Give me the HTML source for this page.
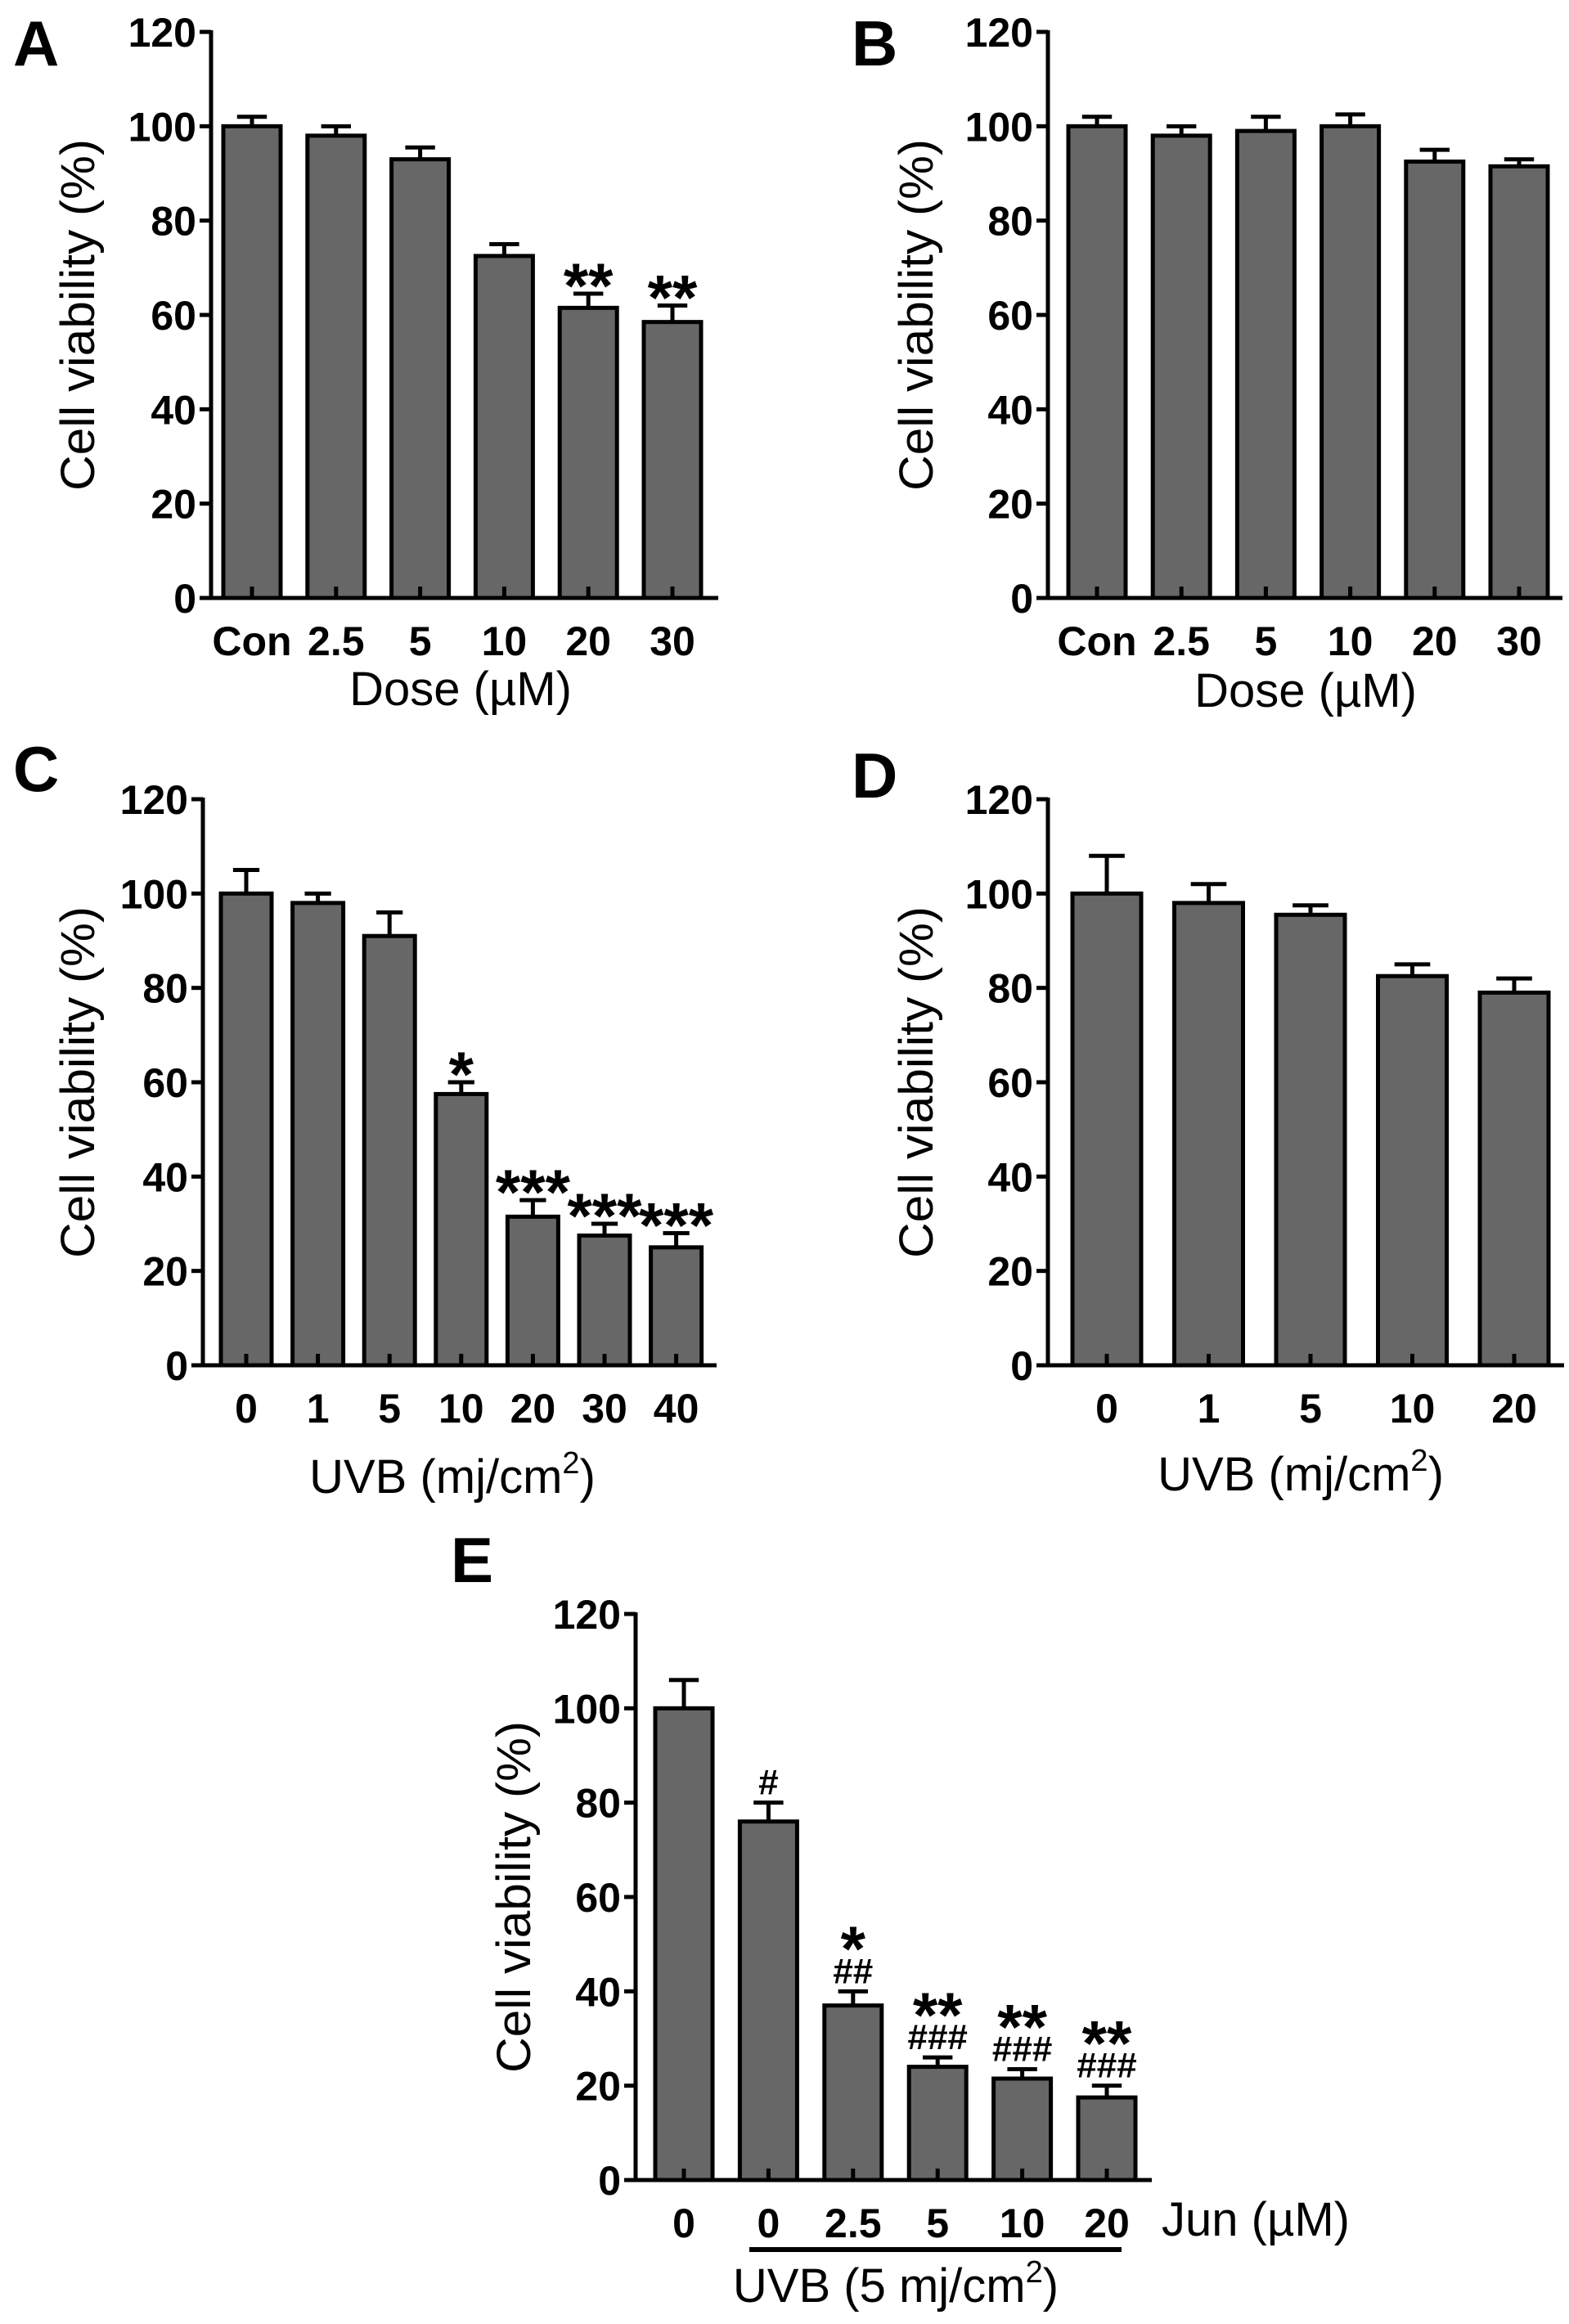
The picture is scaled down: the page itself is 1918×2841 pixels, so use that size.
<!DOCTYPE html>
<html><head><meta charset="utf-8">
<style>
html,body{margin:0;padding:0;background:#fff;}
svg{display:block;}
text{font-family:"Liberation Sans",Arial,sans-serif;fill:#000;}
</style></head>
<body>
<svg id="fig" width="1918" height="2841" viewBox="0 0 1918 2841" xmlns="http://www.w3.org/2000/svg"></svg>
<script>
// ---- Data ----
const aCats = ["Con","2.5","5","10","20","30"];
const aVals = [100, 98, 93, 72.5, 61.5, 58.5];
const aErrs = [2, 2, 2.5, 2.5, 3, 3.5];
const aMarks = ["", "", "", "", "**", "**"];

const bCats = ["Con","2.5","5","10","20","30"];
const bVals = [100, 98, 99, 100, 92.5, 91.5];
const bErrs = [2, 2, 3, 2.5, 2.5, 1.5];

const cCats = ["0","1","5","10","20","30","40"];
const cVals = [100, 98, 91, 57.5, 31.5, 27.5, 25];
const cErrs = [5, 2, 5, 2.5, 3.5, 2.5, 3];
const cMarks = ["", "", "", "*", "***", "***", "***"];

const dCats = ["0","1","5","10","20"];
const dVals = [100, 98, 95.5, 82.5, 79];
const dErrs = [8, 4, 2, 2.5, 3];

const eCats = ["0","0","2.5","5","10","20"];
const eVals = [100, 76, 37, 24, 21.5, 17.5];
const eErrs = [6, 4, 3, 2, 2, 2.5];
const eStars = ["", "", "*", "**", "**", "**"];
const eHashes = ["", "#", "##", "###", "###", "###"];

const yTicks = [0, 20, 40, 60, 80, 100, 120];

// ---- Drawing ----
const NS = "http://www.w3.org/2000/svg";
const svg = document.getElementById("fig");
function el(tag, attrs, parent, txt){
  const e = document.createElementNS(NS, tag);
  for (const k in attrs) e.setAttribute(k, attrs[k]);
  if (txt !== undefined) e.textContent = txt;
  (parent || svg).appendChild(e);
  return e;
}

function panel(cfg){
  const g = el("g", {}, svg);
  
  
  const y = v => cfg.y0 - (cfg.y0 - cfg.y120) * v / 120;
  const x = i => cfg.first + i * cfg.pitch;

  const letter = el("text", {x: cfg.lx, y: cfg.ly, "font-size": 78, "font-weight": "bold"}, g, cfg.id);
  
  

  const yaxis = el("line", {x1: cfg.ax, y1: y(120) - 2, x2: cfg.ax, y2: cfg.y0 + 2, stroke: "#000", "stroke-width": 5}, g);
  
  
  yTicks.forEach(t => {
    const tk = el("line", {x1: cfg.ax - 14, y1: y(t), x2: cfg.ax, y2: y(t), stroke: "#000", "stroke-width": 5}, g);
    
    
    const tl = el("text", {x: cfg.ax - 18, y: y(t) + 18, "font-size": 50, "font-weight": "bold", "text-anchor": "end"}, g, String(t));
    
    
  });
  const yt = el("text", {x: 0, y: 0, "font-size": 58, "text-anchor": "middle",
    transform: "translate(" + (cfg.tx + 20) + "," + ((cfg.y0 + cfg.y120) / 2) + ") rotate(-90)",
    textLength: 430, lengthAdjust: "spacingAndGlyphs"}, g, "Cell viability (%)");
  
  

  cfg.vals.forEach((v, i) => {
    const cx = x(i);
    const top = y(v);
    const capY = y(v + cfg.errs[i]);
    const eb = el("line", {x1: cx, y1: top, x2: cx, y2: capY, stroke: "#000", "stroke-width": 5}, g);
    
    
    const cap = el("line", {x1: cx - cfg.bw * 0.26, y1: capY, x2: cx + cfg.bw * 0.26, y2: capY, stroke: "#000", "stroke-width": 5}, g);
    
    
    const bar = el("rect", {x: cx - cfg.bw / 2, y: top, width: cfg.bw, height: cfg.y0 - top, fill: "#676767", stroke: "#000", "stroke-width": 5}, g);
    
    
    const it = el("line", {x1: cx, y1: cfg.y0, x2: cx, y2: cfg.y0 - 14, stroke: "#000", "stroke-width": 5}, g);
    
    
    const xl = el("text", {x: cx, y: cfg.y0 + 70, "font-size": 50, "font-weight": "bold", "text-anchor": "middle"}, g, cfg.cats[i]);
    
    
    if (cfg.marks && cfg.marks[i]) {
      const mk = el("text", {x: cx, y: capY - 26 + 0.55 * 78, "font-size": 78, "font-weight": "bold", "text-anchor": "middle"}, g, cfg.marks[i]);
      
      
    }
    if (cfg.hashes && cfg.hashes[i]) {
      const hk = el("text", {x: cx, y: capY - 10, "font-size": 44, "font-weight": "bold", "text-anchor": "middle"}, g, cfg.hashes[i]);
      
      
    }
    if (cfg.stars && cfg.stars[i]) {
      const sk = el("text", {x: cx, y: capY - 68 + 0.55 * 78, "font-size": 78, "font-weight": "bold", "text-anchor": "middle"}, g, cfg.stars[i]);
      
      
    }
  });
  const xaxis = el("line", {x1: cfg.ax - 2, y1: cfg.y0, x2: cfg.xend, y2: cfg.y0, stroke: "#000", "stroke-width": 5}, g);
  
  
  return g;
}

function xTitle(g, x, y, main, sup, tail){
  const t = el("text", {x: x, y: y, "font-size": 58, "text-anchor": "middle"}, g);
  
  
  el("tspan", {}, t, main);
  if (sup) {
    el("tspan", {dy: -24, "font-size": 38}, t, sup);
    el("tspan", {dy: 24}, t, tail);
  }
  return t;
}

const gA = panel({id:"A", cats:aCats, vals:aVals, errs:aErrs, marks:aMarks,
  ax:258, y0:731, y120:39, first:308, pitch:102.8, bw:70, xend:878, lx:16, ly:80, tx:95});
xTitle(gA, 563, 862, "Dose (\u00b5M)");

const gB = panel({id:"B", cats:bCats, vals:bVals, errs:bErrs,
  ax:1281, y0:731, y120:39, first:1341, pitch:103.2, bw:70, xend:1910, lx:1041, ly:80, tx:1120});
xTitle(gB, 1596, 864, "Dose (\u00b5M)");

const gC = panel({id:"C", cats:cCats, vals:cVals, errs:cErrs, marks:cMarks,
  ax:248, y0:1669, y120:977, first:301, pitch:87.6, bw:62, xend:876, lx:16, ly:967, tx:95});
xTitle(gC, 553, 1825, "UVB (mj/cm", "2", ")");

const gD = panel({id:"D", cats:dCats, vals:dVals, errs:dErrs,
  ax:1281, y0:1669, y120:977, first:1353, pitch:124.5, bw:84, xend:1912, lx:1041, ly:975, tx:1120});
xTitle(gD, 1590, 1822, "UVB (mj/cm", "2", ")");

const gE = panel({id:"E", cats:eCats, vals:eVals, errs:eErrs, stars:eStars, hashes:eHashes,
  ax:777, y0:2665, y120:1973, first:836, pitch:103.4, bw:70, xend:1408, lx:551, ly:1934, tx:628});
const jun = el("text", {x: 1420, y: 2733, "font-size": 58}, gE, "Jun (\u00b5M)");


const ul = el("line", {x1: 916, y1: 2750, x2: 1371, y2: 2750, stroke: "#000", "stroke-width": 6}, gE);


xTitle(gE, 1095, 2814, "UVB (5 mj/cm", "2", ")");
</script>
</body></html>
